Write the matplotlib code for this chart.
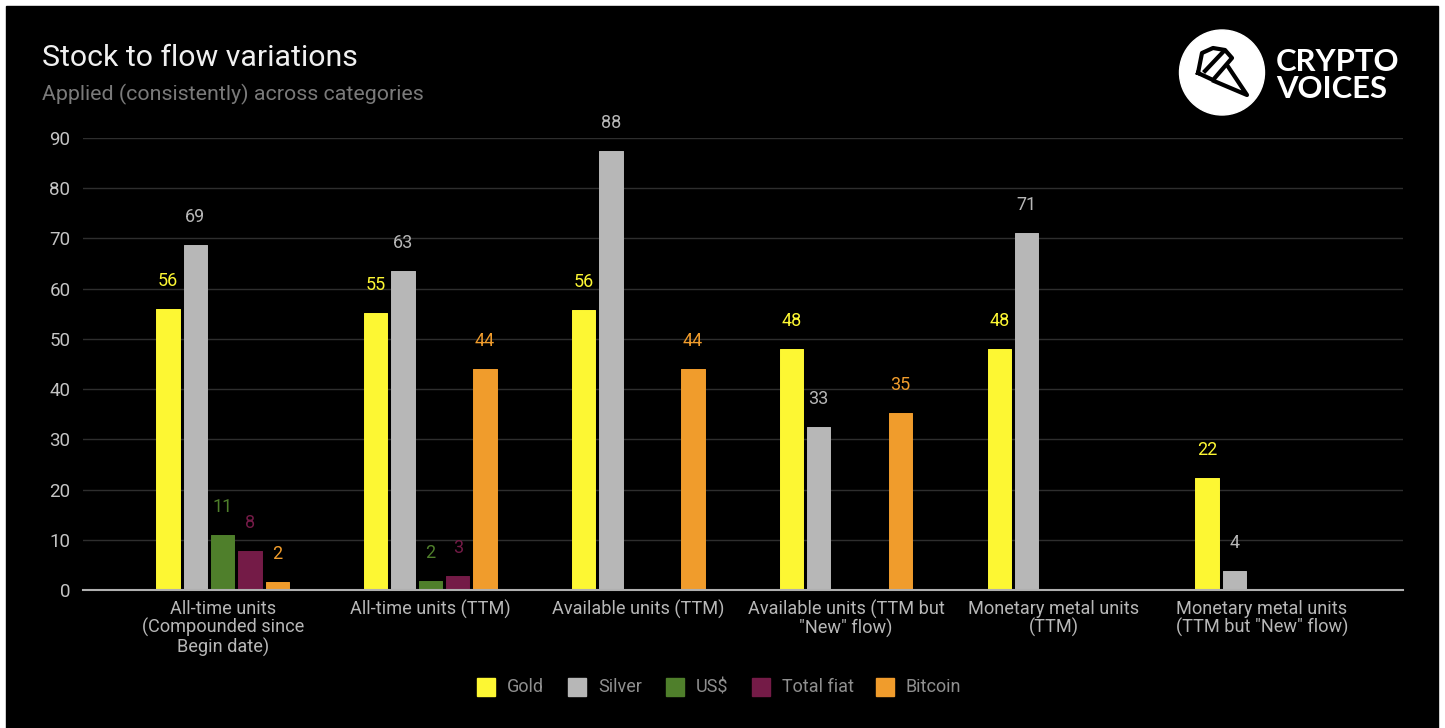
import matplotlib
matplotlib.use('Agg')
import matplotlib.pyplot as plt
import numpy as np
from matplotlib.patches import Circle, Rectangle

plt.rcParams['font.family'] = ['Roboto', 'DejaVu Sans']

categories = ['All-time units\n(Compounded since\nBegin date)', 'All-time units (TTM)', 'Available units (TTM)',
              'Available units (TTM but\n"New" flow)', 'Monetary metal units\n(TTM)',
              'Monetary metal units\n(TTM but "New" flow)']
gold = [56, 55.2, 55.7, 47.9, 47.9, 22.3]
silver = [68.6, 63.5, 87.4, 32.5, 71, 3.8]
usd = [11, 1.8, None, None, None, None]
fiat = [7.7, 2.7, None, None, None, None]
bitcoin = [1.5, 44, 44, 35.2, None, None]
gold_labels = ['56', '55', '56', '48', '48', '22']
silver_labels = ['69', '63', '88', '33', '71', '4']
usd_labels = ['11', '2', '', '', '', '']
fiat_labels = ['8', '3', '', '', '', '']
bitcoin_labels = ['2', '44', '44', '35', '', '']
names = ['Gold', 'Silver', 'US$', 'Total fiat', 'Bitcoin']
colors = ['#fdf733', '#b7b7b7', '#4f7f2b', '#741b47', '#f09c2c']

W, H = 1445, 728
fig = plt.figure(figsize=(W / 100, H / 100), dpi=100, facecolor='white')
fig.add_artist(Rectangle((6 / W, 0), 1432 / W, 1 - 6 / H, transform=fig.transFigure, color='black', zorder=-5))

# plot area in pixels: x 83-1403, y0 at 590, y90 at 138
ax = fig.add_axes([83 / W, 1 - 590 / H, 1320 / W, 452 / H])
ax.set_facecolor('none')
ax.set_xlim(-0.672, 5.68)
ax.set_ylim(0, 90)

series = [gold, silver, usd, fiat, bitcoin]
texts = [gold_labels, silver_labels, usd_labels, fiat_labels, bitcoin_labels]
pitch = 0.1315
width = 0.112
x = np.arange(len(categories))
for i in range(5):
    vals = [np.nan if v is None else v for v in series[i]]
    pos = x + (i - 2) * pitch
    ax.bar(pos, vals, width, color=colors[i], edgecolor=colors[i], linewidth=0.7, joinstyle='round', zorder=3)
    for p, v, t in zip(pos, vals, texts[i]):
        if t:
            ax.annotate(t, (p, v), xytext=(0, 28), textcoords='offset pixels', ha='center', va='center',
                        color=colors[i], fontsize=13)

ax.set_yticks(range(0, 91, 10))
ax.grid(axis='y', color='#2e2e2e', linewidth=1, zorder=0)
ax.tick_params(axis='both', length=0)
ax.tick_params(axis='y', labelsize=13.5, labelcolor='#c4c4c4', pad=9)
ax.set_xticks(x)
ax.set_xticklabels(categories, fontsize=13.1, color='#b7b7b7', linespacing=1.02)
ax.tick_params(axis='x', pad=7)
for s in ['top', 'right', 'left']:
    ax.spines[s].set_visible(False)
ax.spines['bottom'].set_color('#b0b0b0')
ax.spines['bottom'].set_linewidth(1.5)
ax.spines['bottom'].set_zorder(5)

fig.text(42 / W, 1 - 58 / H, 'Stock to flow variations', color='#f0f0f0', fontsize=21.8, va='center')
fig.text(42 / W, 1 - 94 / H, 'Applied (consistently) across categories', color='#7a7a7a', fontsize=15.4, va='center')

# legend
leg_x = [477, 568, 666, 752, 876]
for xp, name, c in zip(leg_x, names, colors):
    fig.add_artist(Rectangle((xp / W, 1 - 696 / H), 18 / W, 18 / H, transform=fig.transFigure, color=c))
    fig.text((xp + 30) / W, 1 - 687 / H, name, color='#8f8f8f', fontsize=13, va='center')

# logo
logo = fig.add_axes([0, 0, 1, 1])
logo.set_xlim(0, W)
logo.set_ylim(H, 0)
logo.axis('off')
logo.patch.set_alpha(0)
logo.add_patch(Circle((1222, 72.5), 42.5, color='white'))
logo.plot([1198, 1202, 1213, 1225, 1232, 1213, 1198], [73, 53, 48, 50, 58, 80, 73], color='black', lw=3,
          solid_joinstyle='round')
logo.plot([1205, 1223], [71, 52], color='black', lw=3)
logo.plot([1227, 1247, 1214], [65, 95, 81], color='black', lw=3, solid_joinstyle='round')
logo.text(1276, 62, 'CRYPTO', color='white', fontsize=22.3, fontweight='bold', va='center', family='Lato')
logo.text(1276, 89, 'VOICES', color='white', fontsize=22.3, fontweight='bold', va='center', family='Lato')

fig.savefig('out.png', dpi=100, facecolor='white')
